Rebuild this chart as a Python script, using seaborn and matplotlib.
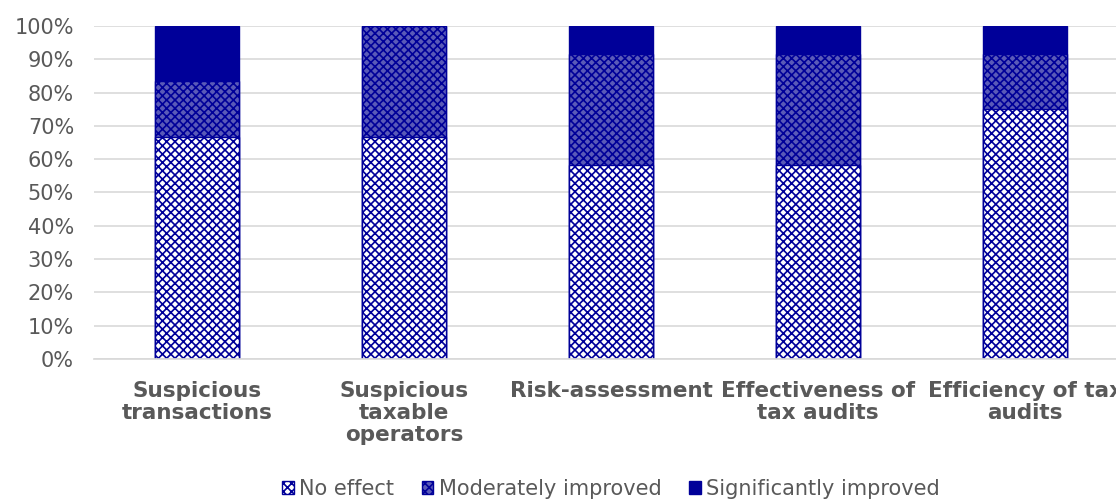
import matplotlib
matplotlib.use("Agg")
import matplotlib.pyplot as plt
import seaborn as sns
import numpy as np
import pandas as pd
from matplotlib.patches import Patch

categories = ["Suspicious\ntransactions", "Suspicious\ntaxable\noperators", "Risk-assessment",
              "Effectiveness of\ntax audits", "Efficiency of tax\naudits"]
no_effect = [66.7, 66.7, 58.3, 58.3, 75.0]
moderately = [16.7, 33.3, 33.3, 33.3, 16.7]
significantly = [16.6, 0.0, 8.4, 8.4, 8.3]
series_names = ["No effect", "Moderately improved", "Significantly improved"]

sns.set_theme(style="white")
plt.rcParams['font.family'] = ['DejaVu Sans']
plt.rcParams['hatch.linewidth'] = 1.2

NAVY = "#000099"
MID = "#5a5ab8"
fig = plt.figure(figsize=(11.16, 5), dpi=100)
ax_left, ax_w = 93.5/1116, 1035/1116
ax = fig.add_axes([ax_left, 1-359/500, ax_w, 333/500])

c1 = np.array(no_effect)
c2 = c1 + np.array(moderately)
c3 = c2 + np.array(significantly)

styles = [
    (c3, NAVY, None),
    (c2, MID, "xxxx"),
    (c1, "white", "xxxx"),
]
for vals, face, hatch in styles:
    df = pd.DataFrame({"cat": categories, "val": vals})
    n_before = len(ax.patches)
    sns.barplot(data=df, x="cat", y="val", ax=ax, color=face, width=0.405,
                edgecolor=NAVY, linewidth=1.0, saturation=1)
    for p in ax.patches[n_before:]:
        p.set_facecolor(face)
        p.set_edgecolor(NAVY)
        if hatch:
            p.set_hatch(hatch)

ax.set_ylim(0, 100)
ax.set_xlim(-0.5, 4.5)
ax.set_yticks(np.arange(0, 101, 10))
ax.set_yticklabels([f"{v}%" for v in range(0, 101, 10)], color="#595959", fontsize=15)
ax.set_xticklabels(categories, fontweight="bold", color="#595959", fontsize=15.5, linespacing=1.12)
ax.tick_params(axis="x", length=0, pad=16)
ax.tick_params(axis="y", length=0, pad=14)
ax.yaxis.grid(True, color="#d9d9d9", linewidth=1.2)
ax.set_axisbelow(True)
for s in ["left", "right", "top"]:
    ax.spines[s].set_visible(False)
ax.spines["bottom"].set_color("#d9d9d9")
ax.set_xlabel("")
ax.set_ylabel("")

handles = [
    Patch(facecolor="white", edgecolor=NAVY, hatch="xxxx"),
    Patch(facecolor=MID, edgecolor=NAVY, hatch="xxxx"),
    Patch(facecolor=NAVY, edgecolor=NAVY),
]
fig.legend(handles, series_names, loc="center", bbox_to_anchor=(ax_left + ax_w/2, 1-489/500), ncol=3,
           frameon=False, fontsize=15, labelcolor="#595959", handlelength=0.55,
           handleheight=0.55, handletextpad=0.25, columnspacing=1.35)

fig.savefig("out.png", dpi=100)
